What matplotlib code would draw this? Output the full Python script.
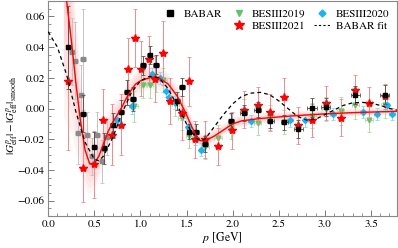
import numpy as np
import matplotlib
matplotlib.use('Agg')
import matplotlib.pyplot as plt
from matplotlib.lines import Line2D
from matplotlib.ticker import MultipleLocator

plt.rcParams['font.family'] = ['STIXGeneral', 'DejaVu Serif']
plt.rcParams['mathtext.fontset'] = 'stix'

# BABAR (black squares): p, value, dy, dp
babar_p = [0.22, 0.38, 0.50, 0.61, 0.70, 0.79, 0.85, 0.92, 1.03, 1.10, 1.17, 1.40, 1.45, 1.53, 1.60,
           1.70, 1.98, 2.12, 2.27, 2.41, 2.56, 2.71, 2.86, 3.01, 3.33, 3.65]
babar_y = [0.040, -0.0035, -0.025, -0.026, -0.011, -0.0025, 0.0105, 0.0063, 0.028, 0.035, 0.0286, 0.005,
           0.014, -0.015, -0.015, -0.023, -0.008, -0.003, -0.0007, -0.008, -0.009, -0.0134, 0.0006,
           0.001, 0.0087, 0.009]
babar_dy = [0.027, 0.012, 0.010, 0.010, 0.008, 0.008, 0.008, 0.008, 0.006, 0.006, 0.006, 0.006, 0.006,
            0.005, 0.005, 0.005, 0.005, 0.005, 0.005, 0.005, 0.005, 0.006, 0.006, 0.006, 0.006, 0.006]
babar_dp = [0.03] * 17 + [0.04] * 4 + [0.05] * 5

# older BABAR points (grey squares)
grey_p = [0.26, 0.29, 0.38, 0.36, 0.32, 0.42, 0.53, 0.47, 0.58, 0.64]
grey_y = [0.037, 0.031, 0.032, 0.0085, -0.016, -0.0175, -0.0175, -0.031, -0.0345, -0.0186]
grey_dy = [0.022, 0.025, 0.033, 0.020, 0.020, 0.015, 0.015, 0.012, 0.014, 0.012]

# BESIII2021 (red stars)
b21_p = [0.22, 0.38, 0.50, 0.60, 0.69, 0.79, 0.87, 0.94, 1.01, 1.09, 1.16, 1.24, 1.32, 1.45, 1.53,
         1.59, 1.70, 1.84, 1.99, 2.12, 2.27, 2.41, 2.56, 2.71, 2.86, 3.01, 3.17, 3.33, 3.48, 3.65]
b21_y = [0.0178, -0.0386, -0.0364, -0.0074, -0.0171, -0.0106, 0.026, 0.046, 0.026, 0.032, 0.019,
         0.036, 0.0047, -0.0028, 0.0176, -0.020, -0.020, -0.0245, -0.0143, -0.0009, 0.002, -0.0024,
         0.0078, -0.011, -0.0078, 0.0035, -0.006, 0.012, 0.0037, 0.008]
b21_dy = [0.045, 0.022, 0.022, 0.020, 0.020, 0.020, 0.020, 0.019, 0.018, 0.015, 0.015, 0.021, 0.015,
          0.018, 0.016, 0.012, 0.012, 0.012, 0.012, 0.012, 0.012, 0.012, 0.012, 0.012, 0.011, 0.011,
          0.012, 0.010, 0.010, 0.008]

# BESIII2019 (green triangles)
b19_p = [0.93, 1.03, 1.10, 1.17, 1.25, 1.38, 1.45, 1.53, 1.70, 1.84, 1.98, 2.12, 2.27, 2.41, 2.56,
         2.86, 3.01, 3.17, 3.33, 3.48, 3.65]
b19_y = [0.0015, 0.015, 0.015, 0.019, 0.0186, 0.003, -0.006, -0.018, -0.025, -0.019, -0.0117, -0.0017,
         -0.0095, -0.0057, -0.0089, -0.0046, -0.0002, -0.0015, 0.002, -0.0073, 0.002]
b19_dy = [0.010, 0.008, 0.008, 0.008, 0.008, 0.008, 0.008, 0.008, 0.008, 0.008, 0.008, 0.008, 0.008,
          0.008, 0.008, 0.008, 0.008, 0.009, 0.009, 0.008, 0.008]

# BESIII2020 (cyan diamonds)
b20_p = [0.75, 0.91, 1.13, 1.21, 1.28, 1.31, 1.38, 1.45, 1.52, 1.59, 1.66, 2.20, 2.62, 2.79, 3.09,
         3.41, 3.56, 3.67, 3.73]
b20_y = [-0.0078, 0.0015, 0.0225, 0.020, 0.0117, 0.0073, 0.004, -0.0035, -0.012, -0.020, -0.0267,
         -0.008, -0.0078, -0.0078, -0.0038, -0.0022, -0.0035, 0.002, -0.0035]
b20_dy = [0.005, 0.005, 0.004, 0.004, 0.004, 0.004, 0.004, 0.004, 0.004, 0.004, 0.004, 0.004, 0.004,
          0.004, 0.004, 0.004, 0.004, 0.004, 0.004]

# smooth fit (red) with band half-width
fit_p = [0.17, 0.20, 0.25, 0.30, 0.35, 0.40, 0.45, 0.50, 0.55, 0.60, 0.65, 0.70, 0.75, 0.80, 0.85,
         0.90, 0.95, 1.00, 1.10, 1.15, 1.20, 1.30, 1.40, 1.50, 1.55, 1.60, 1.65, 1.70, 1.80, 1.90,
         2.00, 2.10, 2.30, 2.50, 2.70, 3.00, 3.30, 3.78]
fit_y = [0.085, 0.070, 0.045, 0.017, -0.008, -0.027, -0.036, -0.036, -0.031, -0.023, -0.015, -0.009,
         -0.004, 0.001, 0.007, 0.012, 0.016, 0.018, 0.020, 0.0205, 0.020, 0.016, 0.008, -0.004, -0.011,
         -0.017, -0.021, -0.021, -0.018, -0.014, -0.010, -0.008, -0.0065, -0.0055, -0.0046, -0.0035,
         -0.0027, -0.0018]
fit_hw = [0.09, 0.08, 0.06, 0.045, 0.032, 0.025, 0.020, 0.017, 0.015, 0.013, 0.012, 0.011, 0.010,
          0.009, 0.009, 0.008, 0.008, 0.008, 0.008, 0.008, 0.008, 0.007, 0.007, 0.006, 0.006, 0.005,
          0.005, 0.005, 0.005, 0.004, 0.004, 0.004, 0.0035, 0.003, 0.003, 0.0025, 0.0025, 0.0025]

# BABAR fit (dashed)
bfit_p = [0.0, 0.1, 0.2, 0.3, 0.4, 0.5, 0.55, 0.6, 0.7, 0.8, 0.9, 1.0, 1.1, 1.2, 1.3, 1.4, 1.5, 1.6,
          1.65, 1.7, 1.8, 1.9, 2.0, 2.1, 2.2, 2.3, 2.4, 2.5, 2.6, 2.7, 2.8, 2.9, 3.0, 3.1, 3.2, 3.3,
          3.4, 3.5, 3.6, 3.7, 3.78]
bfit_y = [0.050, 0.040, 0.022, -0.002, -0.022, -0.033, -0.034, -0.031, -0.019, -0.003, 0.010, 0.018,
          0.021, 0.020, 0.013, 0.002, -0.010, -0.019, -0.021, -0.020, -0.012, -0.004, 0.003, 0.008,
          0.010, 0.0105, 0.009, 0.005, 0.0, -0.005, -0.0075, -0.007, -0.004, -0.001, 0.002, 0.0037,
          0.004, 0.0035, 0.002, 0.0, -0.001]

fig = plt.figure(figsize=(3.98, 2.48), dpi=100)
ax = fig.add_axes([0.121, 0.129, 0.876, 0.867])

fp = np.array(fit_p)
fy = np.array(fit_y)
hw = np.array(fit_hw)
for k in (1.0, 0.8, 0.6, 0.4, 0.2):
    ax.fill_between(fp, fy - k * hw, fy + k * hw, color='#ff8a8a', alpha=0.09, lw=0, zorder=1)

ekw = dict(capsize=1.3, elinewidth=0.7, capthick=0.6, linestyle='none')
ax.errorbar(grey_p, grey_y, yerr=grey_dy, xerr=0.03, fmt='s', ms=3.5, color='#8a8a8a',
            ecolor='#c4c4c4', zorder=2, **ekw)
ax.errorbar(b19_p, b19_y, yerr=b19_dy, xerr=0.04, fmt='v', ms=3.5, color='#66c266',
            ecolor='#a8dca8', zorder=3, **ekw)
ax.errorbar(b20_p, b20_y, yerr=b20_dy, xerr=0.03, fmt='D', ms=3.0, color='#1cb2ec',
            ecolor='#8fd6f2', zorder=3, **ekw)
ax.errorbar(b21_p, b21_y, yerr=b21_dy, xerr=0.03, fmt='*', ms=6, color='#ff0000',
            ecolor='#f08a8a', zorder=4, **ekw)
ax.errorbar(babar_p, babar_y, yerr=babar_dy, xerr=babar_dp, fmt='s', ms=3.5, color='black',
            ecolor='#555555', zorder=5, **ekw)

ax.plot(fp, fy, color='red', lw=1.0, zorder=6)
ax.plot(bfit_p, bfit_y, color='black', lw=0.9, ls=(0, (3, 2.5)), zorder=6)

ax.set_xlim(0, 3.78)
ax.set_ylim(-0.07, 0.07)
ax.xaxis.set_major_locator(MultipleLocator(0.5))
ax.xaxis.set_minor_locator(MultipleLocator(0.1))
ax.yaxis.set_major_locator(MultipleLocator(0.02))
ax.yaxis.set_minor_locator(MultipleLocator(0.005))
ax.yaxis.set_major_formatter(plt.FuncFormatter(lambda v, _: f'{v:.2f}'.replace('-', '\u2212')))
ax.xaxis.set_major_formatter(plt.FuncFormatter(lambda v, _: f'{v:.1f}'))
ax.tick_params(which='both', direction='in', colors='#666666', labelcolor='black', labelsize=8)
ax.tick_params(which='major', length=4, width=0.6, pad=2.5)
ax.tick_params(which='minor', length=2, width=0.5)
for s in ax.spines.values():
    s.set_color('#888888')
    s.set_linewidth(0.8)

ax.set_xlabel(r'$p$ [GeV]', fontsize=8.5, labelpad=1)
ax.set_ylabel(r'$|G^p_{\rm eff}|-|G^p_{\rm eff}|_{\rm smooth}$', fontsize=8, labelpad=0)
ax.yaxis.set_label_coords(-0.08, 0.47)

handles = [Line2D([], [], marker='s', color='black', ls='none', ms=4),
           Line2D([], [], ls='none'),
           Line2D([], [], marker='v', color='#66c266', ls='none', ms=4),
           Line2D([], [], marker='*', color='red', ls='none', ms=7),
           Line2D([], [], marker='D', color='#1cb2ec', ls='none', ms=3.5),
           Line2D([], [], color='black', lw=0.8, ls=(0, (2, 2)))]
labels = ['BABAR', '', 'BESIII2019', 'BESIII2021', 'BESIII2020', 'BABAR fit']
ax.legend(handles, labels, ncol=3, loc='upper right', frameon=False, fontsize=8,
          handlelength=1.4, handletextpad=0.5, columnspacing=0.8, labelspacing=0.2,
          borderaxespad=0.3)

fig.savefig('out.png', dpi=100)
